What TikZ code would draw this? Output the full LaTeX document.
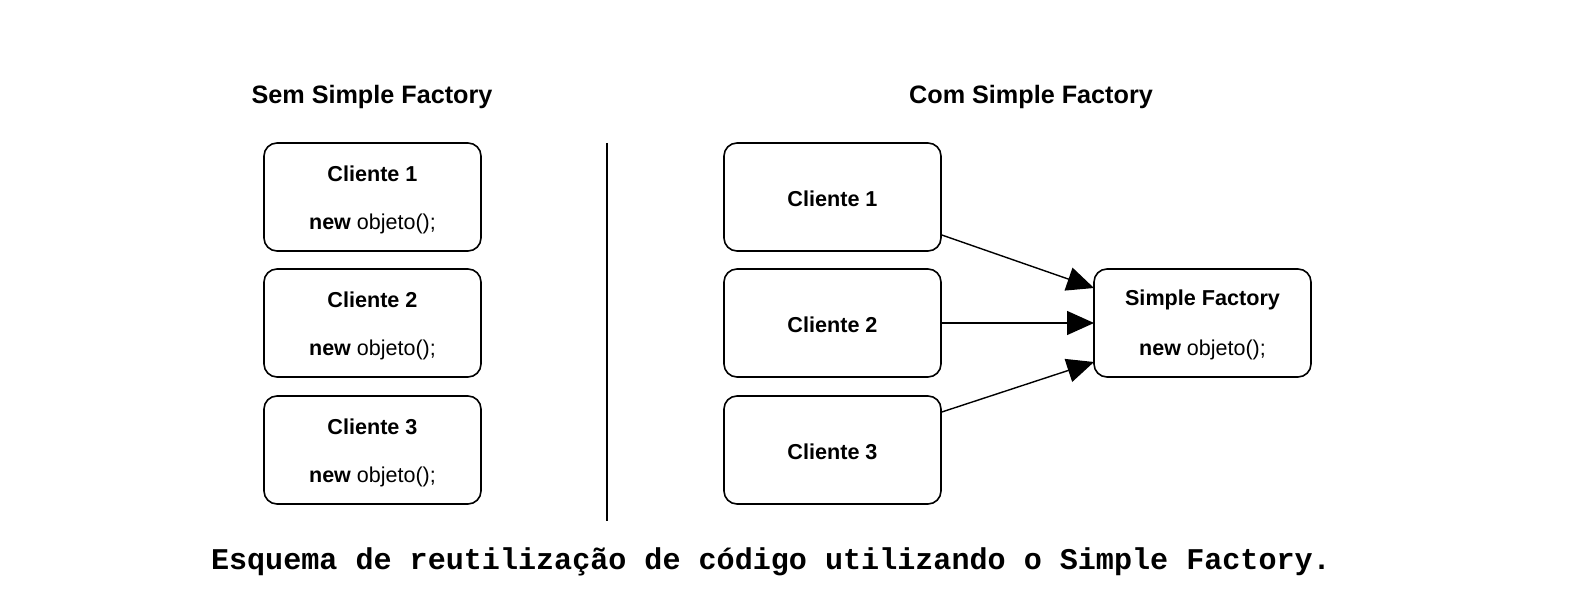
\documentclass[tikz,border=0pt]{standalone}
\usepackage{fontspec}
\setmainfont{Liberation Sans}
\newfontfamily\capfont{Liberation Mono}
\usetikzlibrary{arrows.meta}
\begin{document}
\begin{tikzpicture}[x=1pt,y=-1pt,
  box/.style={draw,line width=1.6pt,rounded corners=13pt,minimum width=217pt,minimum height=108pt,inner sep=0pt},
  ttl/.style={font=\fontsize{21.6}{24}\selectfont\bfseries},
  body/.style={font=\fontsize{21.5}{24}\selectfont},
  head/.style={font=\fontsize{25.2}{28}\selectfont\bfseries},
  conn/.style={line width=1.4pt,-{Triangle[length=27pt,width=24pt]}}]
\useasboundingbox (0,0) rectangle (1571,615);
% left column
\node[head] (hl) at (372,97) {Sem Simple Factory};
\foreach \i/\y in {1/197,2/323,3/450}{
  \node[box] (l\i) at (372.5,\y) {};
  \node[ttl] (lt\i) at (372.5,\y-23) {Cliente \i};
  \node[body] (ln\i) at (372.5,\y+27) {\textbf{new} objeto();};
}
% divider
\coordinate (d1) at (607,143);
\coordinate (d2) at (607,521);
\draw[line width=2.8pt] (d1) -- (d2);
% right column
\node[head] (hr) at (1031,97) {Com Simple Factory};
\foreach \i/\y in {1/197,2/323,3/450}{
  \node[box] (r\i) at (832.5,\y) {};
  \node[ttl] (rt\i) at (832.5,\y+2) {Cliente \i};
}
\node[box] (sf) at (1202.5,323) {};
\node[ttl] (sft) at (1202.5,300) {Simple Factory};
\node[body] (sfn) at (1202.5,350) {\textbf{new} objeto();};
\coordinate (a1) at (1094,288);
\coordinate (a2) at (1094,323);
\coordinate (a3) at (1094,362);
\draw[conn] (r1.east |- 0,235) -- (a1);
\draw[conn] (r2.east) -- (a2);
\draw[conn] (r3.east |- 0,412) -- (a3);
% caption
\node[font=\capfont\fontsize{30.1}{34}\selectfont\bfseries] (cap) at (771,562) {Esquema de reutilização de código utilizando o Simple Factory.};
\end{tikzpicture}
\end{document}
